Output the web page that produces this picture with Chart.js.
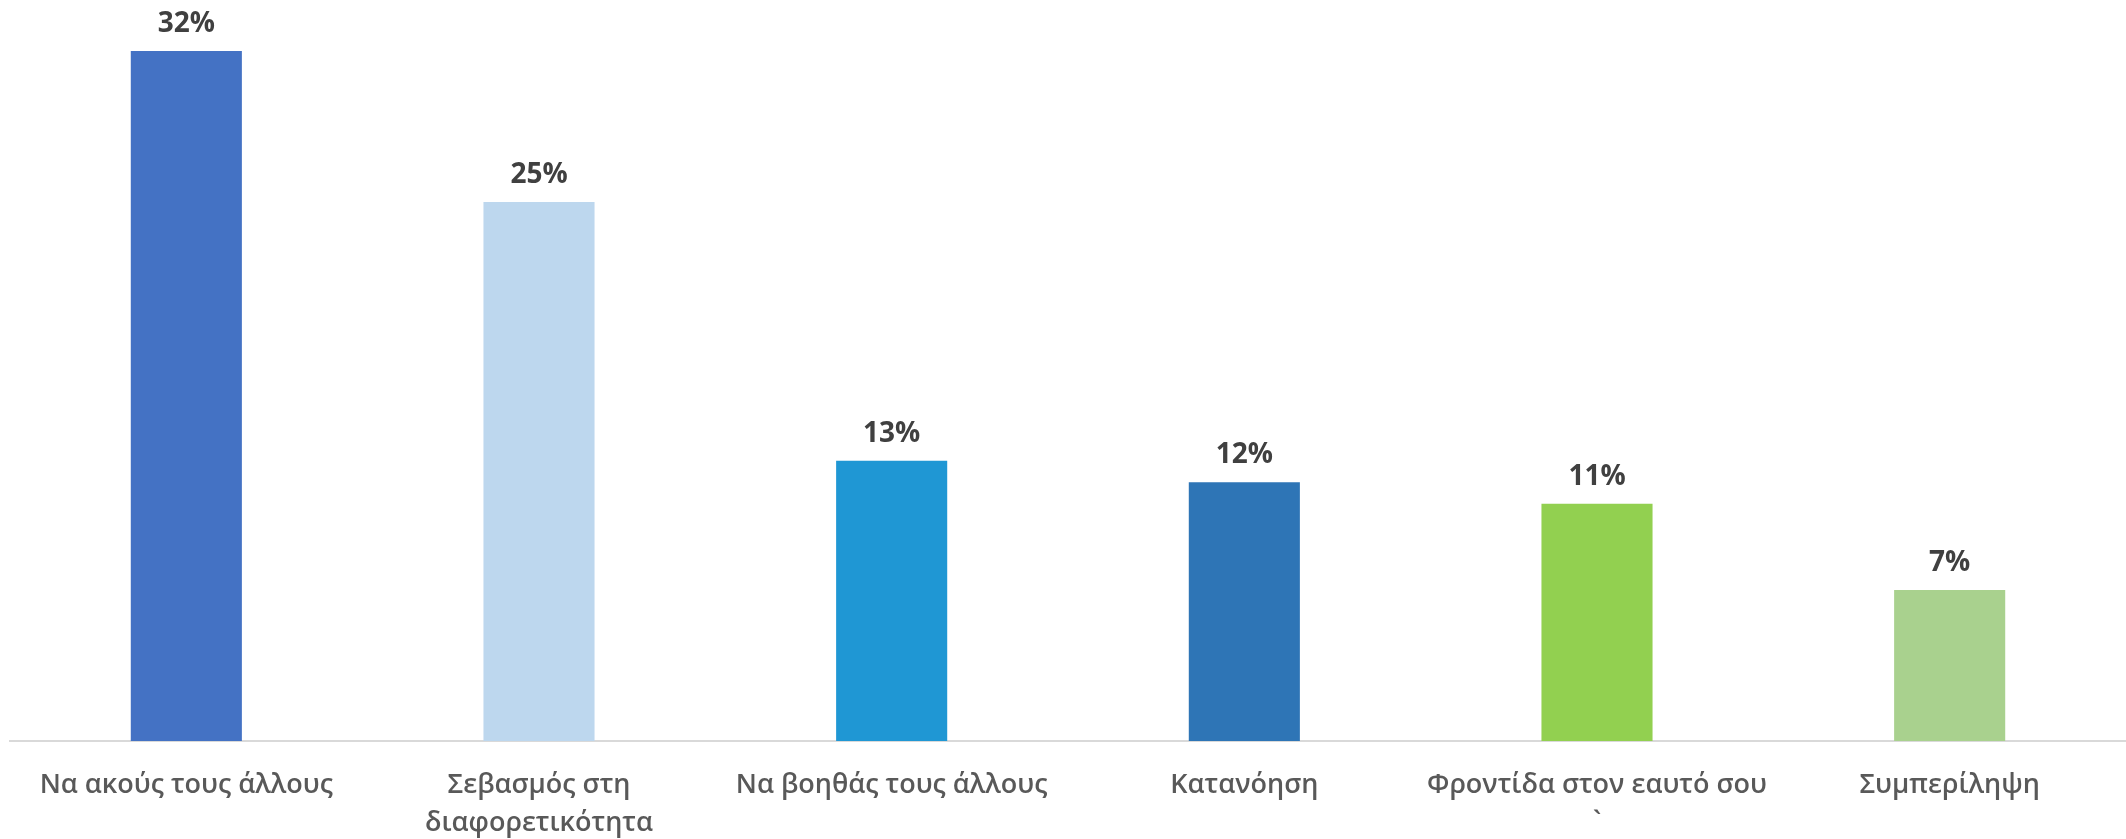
<!DOCTYPE html>
<html>
<head>
<meta charset="utf-8">
<script src="https://cdn.jsdelivr.net/npm/chart.js@4.4.0/dist/chart.umd.min.js"></script>
<style>
  html, body { margin: 0; padding: 0; background: #fff; }
  canvas { display: block; }
</style>
</head>
<body>
<canvas id="myChart" width="2126" height="839"></canvas>
<script>
'use strict';

// data
const categories = [
    'Να ακούς τους άλλους',
    ['Σεβασμός στη', 'διαφορετικότητα'],
    'Να βοηθάς τους άλλους',
    'Κατανόηση',
    ['Φροντίδα στον εαυτό σου', '`'],
    'Συμπερίληψη'
];
const values = [32, 25, 13, 12, 11, 7];
const barColors = ['#4472c4', '#bdd7ee', '#1f97d4', '#2e75b6', '#92d050', '#a9d18e'];

const ctx = document.querySelector('#myChart').getContext('2d');

// percent labels above the bars
const valueLabels = {
    id: 'valueLabels',
    afterDatasetsDraw(chart) {
        const c = chart.ctx;
        const meta = chart.getDatasetMeta(0);
        c.save();
        c.font = 'bold 28px "Open Sans"';
        c.fillStyle = '#404040';
        c.textAlign = 'center';
        c.textBaseline = 'alphabetic';
        meta.data.forEach((bar, i) => {
            c.fillText(values[i] + '%', bar.x, bar.y - 19);
        });
        c.restore();
    }
};

var myChart = new Chart(ctx, {
    type: 'bar',
    data: {
        labels: categories,
        datasets: [{
            data: values,
            backgroundColor: barColors,
            borderWidth: 0,
            barPercentage: 0.315,
            categoryPercentage: 1
        }]
    },
    options: {
        responsive: false,
        animation: false,
        layout: { padding: { left: 10, right: 0, top: 8, bottom: 0 } },
        plugins: {
            legend: { display: false },
            tooltip: { enabled: false }
        },
        scales: {
            x: {
                grid: { display: false, drawTicks: false },
                border: { display: true, color: '#d9d9d9', width: 2 },
                ticks: {
                    color: '#595959',
                    padding: 25,
                    maxRotation: 0,
                    autoSkip: false,
                    font: { family: '"Open Sans"', size: 27, weight: '600', lineHeight: 1.42 }
                },
                afterFit(scale) { scale.height = 98; }
            },
            y: {
                display: false,
                min: 0,
                max: 34
            }
        }
    },
    plugins: [valueLabels]
});
</script>
</body>
</html>
